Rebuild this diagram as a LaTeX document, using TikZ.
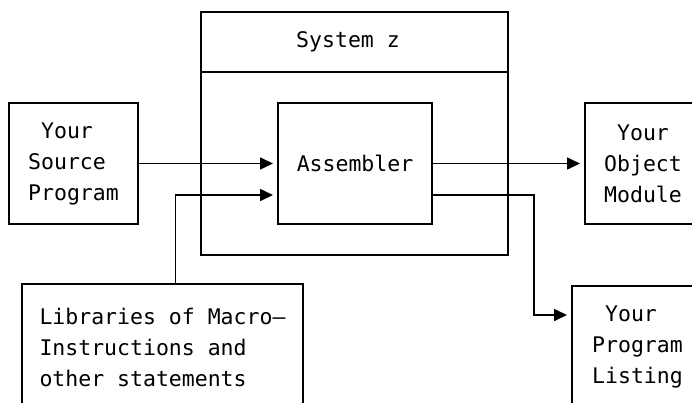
\documentclass[tikz,border=0pt]{standalone}
\usepackage{fontspec}
\setmonofont{DejaVu Sans Mono}
\usetikzlibrary{arrows.meta}

\begin{document}
\begin{tikzpicture}[x=1pt,y=-1pt,line width=1.6pt,
    txt/.style={font=\ttfamily\fontsize{21.5}{31}\selectfont},
    box/.style={txt,draw,rectangle,minimum height=121pt,inner sep=0pt,
      outer sep=0pt,align=left},
    flow/.style={-{Triangle[length=13pt,width=12pt]},shorten >=5pt}]
  \useasboundingbox (0,0) rectangle (692,402);
  \clip (0,0) rectangle (692,402);
  % system frame and its title row
  \node[box,minimum width=307pt,minimum height=243pt] (sys) at (354.5,133.5) {};
  \draw ([yshift=-60pt]sys.north west) -- ([yshift=-60pt]sys.north east);
  \node[txt] (title) at (348,42) {System z};
  % boxes
  \node[box,minimum width=129pt] (src) at (73.5,163.5) {\phantom{Y}Your\\Source\\Program};
  \node[box,minimum width=154pt] (asm) at (355,163.5) {Assembler};
  \node[box,minimum width=116pt] (obj) at (643,163.5) {\phantom{Y}Your\\Object\\Module};
  \node[box,minimum width=131pt,minimum height=122pt] (lst) at (637.5,347) {\phantom{Y}Your\\Program\\Listing};
  \node[box,minimum width=281pt,minimum height=126pt] (lib) at (162.5,347)
    {Libraries of Macro\textemdash\\Instructions and\\other statements};
  % flow lines
  \coordinate (turn) at (534,315);
  \draw[flow] (src.east) -- (asm.west);
  \draw[flow] ([xshift=13pt]lib.north) |- ([yshift=-31.5pt]asm.west);
  \draw[flow] (asm.east) -- (obj.west);
  \draw[flow] ([yshift=-31.5pt]asm.east) -| (turn) -- ([yshift=32pt]lst.west);
\end{tikzpicture}
\end{document}
